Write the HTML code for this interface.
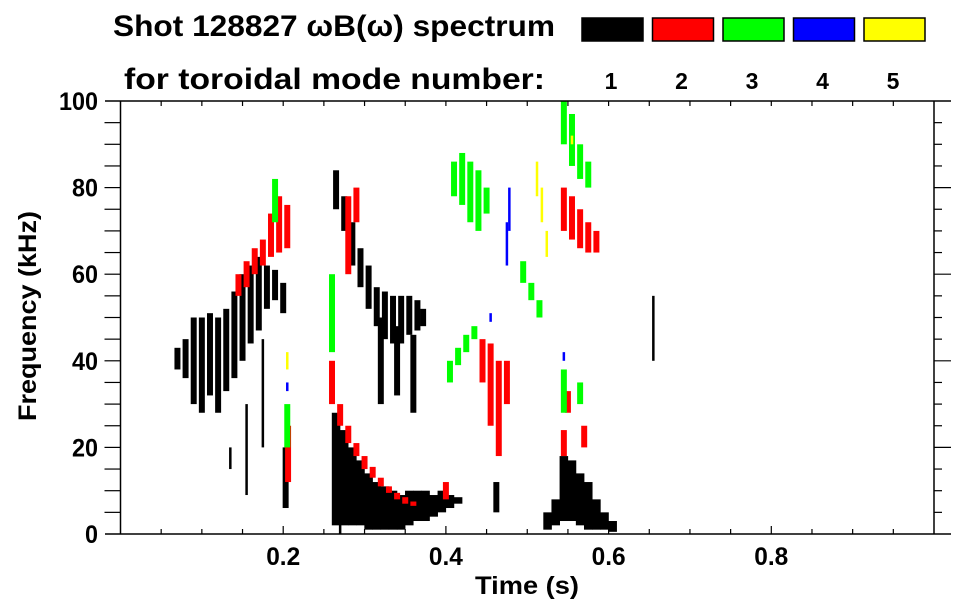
<!DOCTYPE html>
<html><head><meta charset="utf-8"><style>
html,body{margin:0;padding:0;background:#fff;}
svg{display:block;font-family:"Liberation Sans",sans-serif;font-weight:bold;}
</style></head><body>
<svg id="chart" width="963" height="615" viewBox="0 0 963 615">
<g>
<text x="113" y="36" font-size="30" textLength="442" lengthAdjust="spacingAndGlyphs">Shot 128827 ωB(ω) spectrum</text>
<text x="124" y="89" font-size="30" textLength="421" lengthAdjust="spacingAndGlyphs">for toroidal mode number:</text>
</g>
<g id="legend"></g>
<g id="marks"></g>
<g id="axes"></g>
<text x="527" y="594" font-size="25" text-anchor="middle" textLength="104" lengthAdjust="spacingAndGlyphs">Time (s)</text>
<text transform="translate(36,316) rotate(-90)" font-size="25" text-anchor="middle" textLength="210" lengthAdjust="spacingAndGlyphs">Frequency (kHz)</text>
</svg>
<script>
const modeColors = ["#000000","#ff0000","#00ff00","#0000ff","#ffff00"];
const modeLabels = ["1","2","3","4","5"];
const xTicks = [0.2,0.4,0.6,0.8];
const yTicks = [0,20,40,60,80,100];
// streaks: time (s), low freq (kHz), high freq (kHz), mode index (0..4)
const sTime = [
0.07,0.08,0.09,0.10,0.11,0.12,0.13,0.14,0.15,0.16,0.17,0.18,0.19,0.20,0.155,0.135,0.175,0.203,
0.265,0.275,0.285,0.295,0.305,0.315,0.325,0.335,0.345,0.355,0.365,0.372,0.32,0.34,0.36,
0.265,0.275,0.285,0.295,0.305,0.315,0.325,0.335,0.345,0.355,0.365,0.375,0.385,0.395,0.405,0.415,
0.525,0.535,0.545,0.555,0.565,0.575,0.585,0.595,0.605,0.462,0.655,0.27,
0.145,0.155,0.165,0.175,0.185,0.195,0.205,0.206,
0.26,0.27,0.28,0.29,0.30,0.31,0.32,0.33,0.34,0.35,0.36,0.28,0.29,0.40,
0.445,0.455,0.465,0.475,0.545,0.555,0.565,0.575,0.585,0.545,0.55,0.57,
0.41,0.42,0.43,0.44,0.45,0.405,0.415,0.425,0.435,0.545,0.555,0.565,0.575,0.495,0.505,0.515,0.545,0.19,0.205,0.26,0.565,
0.475,0.478,0.545,0.205,0.455,
0.512,0.518,0.524,0.205,0.555
];
const sLow = [
38,36,30,28,32,28,33,36,40,44,47,52,54,51,9,15,20,6,
75,70,62,57,52,48,45,44,44,46,47,48,30,32,28,
2,2,2,2,1,1,1,1,1,2,3,3,4,5,6,7,
1,2,3,3,2,1,1,1,0.5,5,40,0,
55,57,60,62,64,65,66,12,
30,25,21,18,15,13,11,9.5,8,7,6.5,60,72,8,
35,25,18,30,70,68,66,65,65,18,28,20,
78,76,72,70,74,35,39,42,45,90,85,82,80,58,54,50,28,72,20,42,30,
62,70,40,33,49,
78,72,64,38,90
];
const sHigh = [
43,45,50,50,51,50,52,56,60,62,64,62,61,58,30,20,45,20,
84,78,72,66,62,57,56,55,55,55,54,52,50,48,46,
28,24,20,17,14,12,11,10,9,10,10,10,9,10,9,8.5,
5,8,18,17,14,12,8,5,3,12,55,6,
60,63,66,68,74,78,76,25,
40,30,25,21,18,15.5,13,11,9.5,8.5,7.5,78,80,12,
45,44,40,40,80,78,75,72,70,24,33,25,
86,88,86,84,80,40,43,46,48,100,97,90,86,63,58,54,38,82,30,60,35,
72,80,42,35,51,
86,80,70,42,92
];
const sMode = [
0,0,0,0,0,0,0,0,0,0,0,0,0,0,0,0,0,0,
0,0,0,0,0,0,0,0,0,0,0,0,0,0,0,
0,0,0,0,0,0,0,0,0,0,0,0,0,0,0,0,
0,0,0,0,0,0,0,0,0,0,0,0,
1,1,1,1,1,1,1,1,
1,1,1,1,1,1,1,1,1,1,1,1,1,1,
1,1,1,1,1,1,1,1,1,1,1,1,
2,2,2,2,2,2,2,2,2,2,2,2,2,2,2,2,2,2,2,2,2,
3,3,3,3,3,
4,4,4,4,4
];
const X0=120.5, X1=934, Y0=534, Y1=101;
const xScale = t => X0 + t*(X1-X0);
const yScale = f => Y0 - f/100*(Y0-Y1);
const NS="http://www.w3.org/2000/svg";
function mk(tag, attrs, parent){const e=document.createElementNS(NS,tag);for(const k in attrs)e.setAttribute(k,attrs[k]);parent.appendChild(e);return e;}
const marks=document.getElementById('marks');
for(let i=0;i<sTime.length;i++){
  const thin = (sMode[i]===0 && (i===14||i===15||i===16||i===59||i===60)) || sMode[i]===3 || sMode[i]===4;
  const dense = sMode[i]===0 && ((i>=33 && i<=48) || (i>=49 && i<=57));
  const w = thin ? 2.5 : (xScale(0.0105)-xScale(0))*(dense?1.0:0.7);
  const r = mk('rect',{x:xScale(sTime[i])-w/2,y:yScale(sHigh[i]),width:w,height:Math.max(1.5,yScale(sLow[i])-yScale(sHigh[i])),fill:modeColors[sMode[i]]},marks);
  
  
}
const legend=document.getElementById('legend');
modeColors.forEach((c,i)=>{
  const bx=582+i*70.5;
  const r=mk('rect',{x:bx,y:18,width:61,height:23,fill:c,stroke:'#000','stroke-width':1.5},legend);
  
  
  const t=mk('text',{x:bx+29,y:89,'font-size':23,'text-anchor':'middle'},legend);
  t.textContent=modeLabels[i];
  
  
});
const axes=document.getElementById('axes');
const st={stroke:'#000','stroke-width':1.5};
mk('line',Object.assign({x1:105,y1:Y1,x2:951,y2:Y1},st),axes);
mk('line',Object.assign({x1:105,y1:Y0,x2:951,y2:Y0},st),axes);
mk('line',Object.assign({x1:X0,y1:Y1,x2:X0,y2:Y0},st),axes);
mk('line',Object.assign({x1:X1,y1:Y1,x2:X1,y2:Y0},st),axes);
for(let k=1;k<20;k++){
  const t=k*0.05, x=xScale(t), major=(k%4===0);
  mk('line',{x1:x,y1:Y0,x2:x,y2:Y0-(major?8:5),stroke:'#000','stroke-width':1.2},axes);
  mk('line',{x1:x,y1:Y1,x2:x,y2:Y1+5,stroke:'#000','stroke-width':1.2},axes);
}
for(let k=1;k<20;k++){
  const f=k*5, y=yScale(f), major=(k%4===0);
  mk('line',{x1:X0-16,y1:y,x2:X0,y2:y,stroke:'#000','stroke-width':1.2},axes);
  mk('line',{x1:X1,y1:y,x2:X1+(major?17:8),y2:y,stroke:'#000','stroke-width':1.2},axes);
}
xTicks.forEach(t=>{
  const e=mk('text',{x:xScale(t),y:565,'font-size':25,'text-anchor':'middle',textLength:34,lengthAdjust:'spacingAndGlyphs'},axes);
  e.textContent=t.toFixed(1);
  
  
});
yTicks.forEach(f=>{
  const s=String(f);
  const e=mk('text',{x:98,y:yScale(f)+9,'font-size':25,'text-anchor':'end',textLength:s.length*13,lengthAdjust:'spacingAndGlyphs'},axes);
  e.textContent=s;
  
  
});
</script>
</body></html>
